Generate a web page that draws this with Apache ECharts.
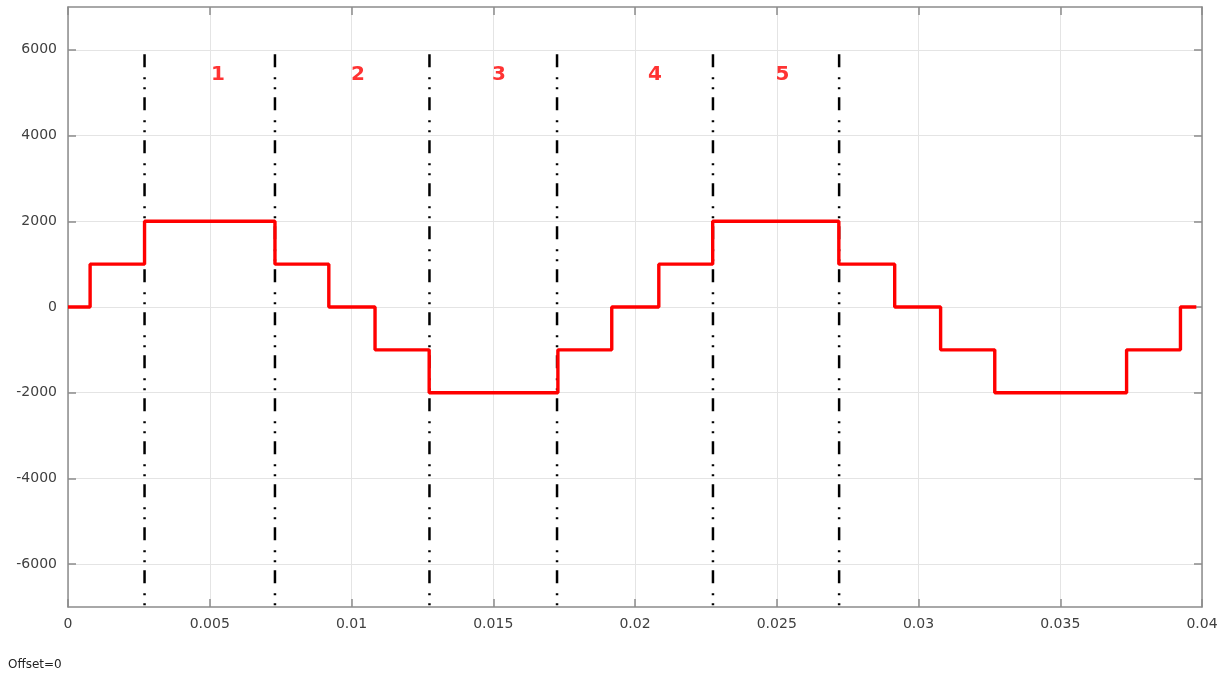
<!DOCTYPE html>
<html>
<head>
<meta charset="utf-8">
<script src="https://cdn.jsdelivr.net/npm/echarts@6/dist/echarts.min.js"></script>
<style>html,body{margin:0;padding:0;background:#fff;}#c{width:1226px;height:675px;}</style>
</head>
<body>
<div id="c"></div>
<script>
// Step waveform: level held from each time until the next
const stepTimes  = [0, 0.00078, 0.0027, 0.0073, 0.0092, 0.01083, 0.01274, 0.01728, 0.01918, 0.02084, 0.02274, 0.02719, 0.02916, 0.03078, 0.03269, 0.03734, 0.03924, 0.03975, 0.0398];
const stepLevels = [0, 1000, 2000, 1000, 0, -1000, -2000, -1000, 0, 1000, 2000, 1000, 0, -1000, -2000, -1000, 0, 0, 0];
// Dash-dot separators
const sepTimes = [0.0027, 0.0073, 0.01275, 0.01725, 0.02275, 0.0272];
const sepTop = 5900, sepBottom = -7000;
// Region labels
const regionNames = ['1', '2', '3', '4', '5'];
const regionX = [0.00529, 0.01023, 0.0152, 0.0207, 0.0252];
const regionY = 5420;
const xTicks = [0, 0.005, 0.01, 0.015, 0.02, 0.025, 0.03, 0.035, 0.04];
const yTicks = [-6000, -4000, -2000, 0, 2000, 4000, 6000];

const chart = echarts.init(document.getElementById('c'));
const font = 'DejaVu Sans';
const lineCol = '#8c8c8c';
const tickStyle = {show: true, inside: true, length: 8, lineStyle: {color: lineCol, width: 1.5}};
const axisLine = {show: true, onZero: false, lineStyle: {color: lineCol, width: 1.5}};
const sepSeries = sepTimes.map(t => ({
  type: 'line', data: [[t, sepTop], [t, sepBottom]], symbol: 'none', silent: true, z: 3,
  lineStyle: {color: '#000', width: 2.5, type: [13, 10, 2, 8, 2, 8]}
}));
chart.setOption({
  animation: false,
  backgroundColor: '#fff',
  grid: {left: 68, top: 7, right: 24, bottom: 68},
  xAxis: [
    {type: 'value', min: 0, max: 0.04, interval: 0.005, position: 'bottom', axisLine, axisTick: tickStyle,
      axisLabel: {color: '#404040', fontFamily: font, fontSize: 14, margin: 10, formatter: v => String(+v.toFixed(3))},
      splitLine: {show: true, lineStyle: {color: '#e4e4e4', width: 1}}},
    {type: 'value', min: 0, max: 0.04, interval: 0.005, position: 'top', axisLine, axisTick: tickStyle,
      axisLabel: {show: false}, splitLine: {show: false}}
  ],
  yAxis: [
    {type: 'value', min: -7000, max: 7000, interval: 1000, position: 'left', axisLine,
      axisTick: Object.assign({}, tickStyle, {customValues: yTicks}),
      axisLabel: {color: '#404040', fontFamily: font, fontSize: 14, margin: 11, customValues: yTicks, formatter: v => String(v)},
      splitLine: {show: false}},
    {type: 'value', min: -7000, max: 7000, interval: 1000, position: 'right', axisLine,
      axisTick: Object.assign({}, tickStyle, {customValues: yTicks}),
      axisLabel: {show: false}, splitLine: {show: false}}
  ],
  graphic: [{type: 'text', left: 8, top: 659, style: {text: 'Offset=0', fontFamily: font, fontSize: 12, fill: '#222'}}],
  series: [
    {type: 'line', data: yTicks.map(v => [0, v]), symbol: 'none', lineStyle: {width: 0}, silent: true, z: 0,
      markLine: {silent: true, symbol: 'none', label: {show: false}, z: 0,
        lineStyle: {color: '#e4e4e4', width: 1, type: 'solid'},
        data: yTicks.map(v => ({yAxis: v}))}},
    ...sepSeries,
    {type: 'line', step: 'end', data: stepTimes.map((t, i) => [t, stepLevels[i]]), symbol: 'none', z: 4,
      lineStyle: {color: '#ff0000', width: 3.4}},
    {type: 'scatter', data: regionX.map((x, i) => [x, regionY, regionNames[i]]), symbolSize: 0, z: 5,
      label: {show: true, position: 'inside', formatter: p => p.data[2], color: '#ff0000',
        fontFamily: font, fontWeight: 'bold', fontSize: 20}}
  ]
});
</script>
</body>
</html>
